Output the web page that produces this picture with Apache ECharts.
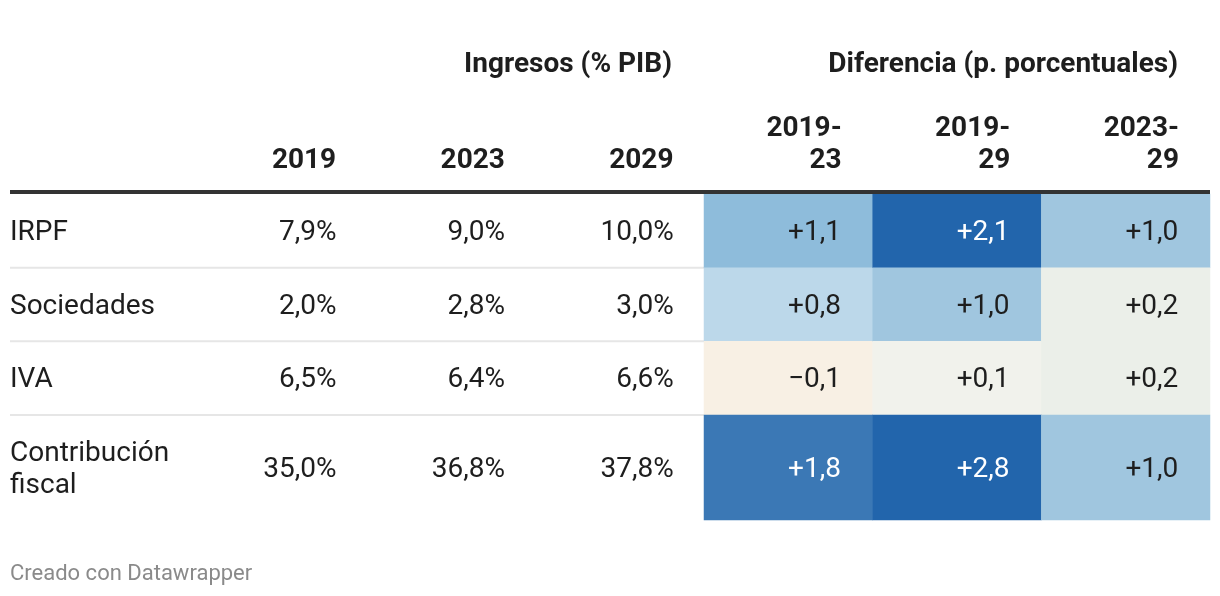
<!DOCTYPE html>
<html>
<head>
<meta charset="utf-8">
<script src="https://cdn.jsdelivr.net/npm/echarts@6/dist/echarts.min.js"></script>
<style>
  html, body { margin: 0; padding: 0; background: #ffffff; }
  #chart { width: 1220px; height: 596px; }
</style>
</head>
<body>
<div id="chart"></div>
<script>
// ---- data ----
const rowLabels = ['IRPF', 'Sociedades', 'IVA', 'Contribución\nfiscal'];
const columnLabels = ['2019', '2023', '2029', '2019-\n23', '2019-\n29', '2023-\n29'];
const groupLabels = ['Ingresos (% PIB)', 'Diferencia (p. porcentuales)'];
const ingresos2019 = [7.9, 2.0, 6.5, 35.0];
const ingresos2023 = [9.0, 2.8, 6.4, 36.8];
const ingresos2029 = [10.0, 3.0, 6.6, 37.8];
const dif2019_23 = [1.1, 0.8, -0.1, 1.8];
const dif2019_29 = [2.1, 1.0, 0.1, 2.8];
const dif2023_29 = [1.0, 0.2, 0.2, 1.0];
const footerText = 'Creado con Datawrapper';

// ---- layout ----
const W = 1220, LEFT_EDGE = 10, RIGHT_EDGE = 1210;
const GRID_LEFT = 198;
const TOP_A = 194, ROWS_A = 3, ROW_H = 73.67;
const TOP_B = TOP_A + ROWS_A * ROW_H, H_B = 105;
const FONT = 'Roboto, "Noto Sans", sans-serif';
const TEXT = '#1e1e1e';
const INSET_ING = 30.5, INSET_DIF = 32;

const ingresosCols = [ingresos2019, ingresos2023, ingresos2029];
const difCols = [dif2019_23, dif2019_29, dif2023_29];

const fmtPct = v => v.toFixed(1).replace('.', ',') + '%';
const fmtDif = v => (v > 0 ? '+' : v < 0 ? '\u2212' : '') + Math.abs(v).toFixed(1).replace('.', ',');

function ingresosData(rowFrom, rowTo) {
  const out = [];
  ingresosCols.forEach((col, ci) => {
    for (let r = rowFrom; r < rowTo; r++) out.push([ci, r - rowFrom, col[r]]);
  });
  return out;
}
function difData(rowFrom, rowTo) {
  const out = [];
  difCols.forEach((col, ci) => {
    for (let r = rowFrom; r < rowTo; r++) {
      const v = col[r];
      out.push({ value: [ci + 3, r - rowFrom, v], label: { color: v >= 1.5 ? '#ffffff' : TEXT } });
    }
  });
  return out;
}

const cellLabel = (fmt, inset) => ({
  show: true,
  position: 'insideRight',
  distance: inset,
  offset: [0, 2],
  fontFamily: FONT,
  fontSize: 28,
  color: TEXT,
  formatter: p => fmt(p.value[2])
});

const colW = (RIGHT_EDGE - GRID_LEFT) / 6;
const headStyle = { align: 'right', fontFamily: FONT, fontSize: 28, fontWeight: 'bold', color: TEXT, lineHeight: 32 };
const headerRich = {
  h1: Object.assign({ width: 2 * (colW / 2 - 30.5) }, headStyle),
  h2: Object.assign({ width: 2 * (colW / 2 - 31) }, headStyle)
};
const groupRich = { g: Object.assign({ width: 2 * (3 * colW / 2 - 32) }, headStyle) };

const hiddenAxis = { axisLine: { show: false }, axisTick: { show: false }, splitLine: { show: false } };
const rowLabelStyle = {
  interval: 0, align: 'left', margin: GRID_LEFT - LEFT_EDGE,
  formatter: v => v.split('\n').map(s => '{r|' + s + '}').join('\n'),
  rich: { r: { fontFamily: FONT, fontSize: 28, color: TEXT, lineHeight: 32, padding: [4, 0, 0, 0] } }
};

const option = {
  backgroundColor: '#ffffff',
  animation: false,
  title: {
    text: footerText, left: LEFT_EDGE - 5, top: 558,
    textStyle: { fontFamily: FONT, fontSize: 22, fontWeight: 'normal', color: '#8a8a8a' }
  },
  grid: [
    { left: GRID_LEFT, right: W - RIGHT_EDGE, top: TOP_A, height: ROWS_A * ROW_H },
    { left: GRID_LEFT, right: W - RIGHT_EDGE, top: TOP_B, height: H_B }
  ],
  xAxis: [
    Object.assign({ type: 'category', gridIndex: 0, position: 'top', data: columnLabels,
      axisLabel: { interval: 0, margin: 17,
        formatter: (v, i) => v.split('\n').map(s => '{' + (i < 3 ? 'h1' : 'h2') + '|' + s + '}').join('\n'),
        rich: headerRich } }, hiddenAxis),
    Object.assign({ type: 'category', gridIndex: 0, position: 'top', offset: 96, data: groupLabels,
      axisLabel: { interval: 0, margin: 17, formatter: v => '{g|' + v + '}', rich: groupRich } }, hiddenAxis),
    Object.assign({ type: 'category', gridIndex: 1, data: columnLabels, axisLabel: { show: false } }, hiddenAxis)
  ],
  yAxis: [
    Object.assign({ type: 'category', gridIndex: 0, inverse: true, data: rowLabels.slice(0, 3), axisLabel: rowLabelStyle }, hiddenAxis),
    Object.assign({ type: 'category', gridIndex: 1, inverse: true, data: rowLabels.slice(3), axisLabel: rowLabelStyle }, hiddenAxis)
  ],
  visualMap: {
    show: false,
    type: 'piecewise',
    seriesIndex: [1, 3],
    dimension: 2,
    pieces: [
      { lt: 0, color: '#f8f0e4' },
      { gte: 0, lt: 0.15, color: '#f1f2ec' },
      { gte: 0.15, lt: 0.5, color: '#ebefe9' },
      { gte: 0.5, lt: 0.9, color: '#bcd8ea' },
      { gte: 0.9, lt: 1.05, color: '#a0c6df' },
      { gte: 1.05, lt: 1.5, color: '#8ebcdb' },
      { gte: 1.5, lt: 2.0, color: '#3b78b5' },
      { gte: 2.0, color: '#2265ac' }
    ]
  },
  graphic: [
    { type: 'rect', z: 10, shape: { x: LEFT_EDGE, y: TOP_A - 4, width: RIGHT_EDGE - LEFT_EDGE, height: 4 }, style: { fill: '#333333' } },
    ...[1, 2, 3].map(k => ({
      type: 'line', z: 0,
      shape: { x1: LEFT_EDGE, y1: TOP_A + k * ROW_H, x2: RIGHT_EDGE, y2: TOP_A + k * ROW_H },
      style: { stroke: '#e6e6e6', lineWidth: 2 }
    }))
  ],
  series: [
    { type: 'heatmap', xAxisIndex: 0, yAxisIndex: 0, data: ingresosData(0, 3),
      itemStyle: { color: 'rgba(255,255,255,0)' }, label: cellLabel(fmtPct, INSET_ING), emphasis: { disabled: true } },
    { type: 'heatmap', xAxisIndex: 0, yAxisIndex: 0, data: difData(0, 3),
      label: cellLabel(fmtDif, INSET_DIF), emphasis: { disabled: true } },
    { type: 'heatmap', xAxisIndex: 2, yAxisIndex: 1, data: ingresosData(3, 4),
      itemStyle: { color: 'rgba(255,255,255,0)' }, label: cellLabel(fmtPct, INSET_ING), emphasis: { disabled: true } },
    { type: 'heatmap', xAxisIndex: 2, yAxisIndex: 1, data: difData(3, 4),
      label: cellLabel(fmtDif, INSET_DIF), emphasis: { disabled: true } }
  ]
};

const chart = echarts.init(document.getElementById('chart'), null, { renderer: 'canvas' });
chart.setOption(option);
</script>
</body>
</html>
